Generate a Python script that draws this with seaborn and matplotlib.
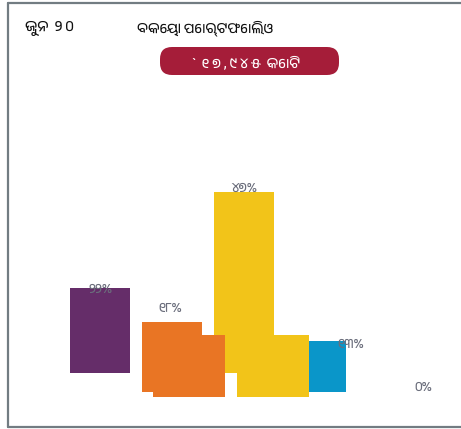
import matplotlib
matplotlib.use("Agg")
import matplotlib.pyplot as plt
from matplotlib import font_manager
from matplotlib.patches import FancyBboxPatch
from matplotlib.lines import Line2D
from matplotlib.transforms import IdentityTransform
import pandas as pd
import seaborn as sns

# data
segments = ["s1", "s2", "s3", "s4", "s5"]
colors = ["#652d69", "#e97524", "#f2c419", "#0a96c9", "#9a9aa6"]
pct = [22, 18, 47, 13, 0]
pct_labels = ["୨୨%", "୧୮%", "୪୭%", "୧୩%", "୦%"]

# the frame is caught mid-animation: bars sit in three shifted layers
layer_a = ["s1", "s3"]
layer_b = ["s2", "s4"]
layer_c = ["s2", "s3"]
layer_c_pct = [16, 16]

date_text = "ଜୁନ  ୨ ୦"
title_text = "ବକେୟା ପୋର୍ଟଫୋଲିଓ"
total_text = "`  ୧ ୭ , ୯ ୪ ୫  କୋଟି"

W, H = 461, 429
PX_PER_PCT = 3.85

# look for a font that can draw Odia
odia = [f.name for f in font_manager.fontManager.ttflist
        if "oriya" in f.name.lower() or "odia" in f.name.lower()]
fam = odia[:1] + ["Noto Sans", "DejaVu Sans"]

sns.set_theme(style="white")
plt.rcParams["font.family"] = fam

fig = plt.figure(figsize=(W / 100, H / 100), dpi=100)
palette = dict(zip(segments, colors))


def layer(left, slot, base, width, subset, vals):
    # pixel box -> figure fraction, 5 slots wide, 0..50 % tall
    top = base - 50 * PX_PER_PCT
    ax = fig.add_axes([left / W, (H - base) / H, 5 * slot / W, (base - top) / H])
    df = pd.DataFrame({"seg": subset, "pct": vals})
    sns.barplot(data=df, x="seg", y="pct", hue="seg", order=segments,
                hue_order=segments, palette=palette, width=width,
                saturation=1, legend=False, linewidth=0, ax=ax)
    ax.set_xlim(-0.5, 4.5)
    ax.set_ylim(0, 50)
    ax.axis("off")
    return ax


ax_a = layer(63.5, 72, 373, 60 / 72, layer_a, [pct[segments.index(s)] for s in layer_a])
ax_b = layer(63.5, 72, 391.5, 60 / 72, layer_b, [pct[segments.index(s)] for s in layer_b])
ax_c = layer(63, 84, 397, 72 / 84, layer_c, layer_c_pct)
ax_b.set_zorder(1)
ax_a.set_zorder(2)
ax_c.set_zorder(3)

# value labels (pixel nudges, the animation left them out of place)
label_dx = [0.5, -1.5, 0.5, 35, 35.5]
label_dy = [-1, -5, 4, -22, -14]
lab_ax = fig.add_axes(ax_a.get_position(), facecolor="none")
lab_ax.set_xlim(-0.5, 4.5)
lab_ax.set_ylim(0, 50)
lab_ax.axis("off")
lab_ax.set_zorder(4)
for i, (v, t) in enumerate(zip(pct, pct_labels)):
    lab_ax.annotate(t, xy=(i, v), xytext=(label_dx[i], label_dy[i]),
                    textcoords="offset pixels", ha="center", va="center",
                    fontsize=9.5, color="#6b6e7c", family=fam)

# header
fig.text(25 / W, 1 - 28 / H, date_text, fontsize=10.5, color="#111111",
         ha="left", va="center", family=fam, weight="medium")
fig.text(137 / W, 1 - 28 / H, title_text, fontsize=10, color="#111111",
         ha="left", va="center", family=fam, weight="medium")
pill = FancyBboxPatch((160, H - 75), 179, 28,
                      boxstyle="round,pad=0,rounding_size=12",
                      transform=IdentityTransform(), facecolor="#a51d39",
                      edgecolor="none")
fig.patches.append(pill)
fig.text(246 / W, 1 - 62 / H, total_text, fontsize=10, color="white",
         ha="center", va="center", family=fam)

# card frame: left, top, bottom
for xs, ys in [([8, 8], [3, 427]), ([8, W], [3, 3]), ([8, W], [427, 427])]:
    fig.add_artist(Line2D([x / W for x in xs], [1 - y / H for y in ys],
                          transform=fig.transFigure, color="#727c82", lw=1.6))

fig.savefig("out.png", dpi=100)
